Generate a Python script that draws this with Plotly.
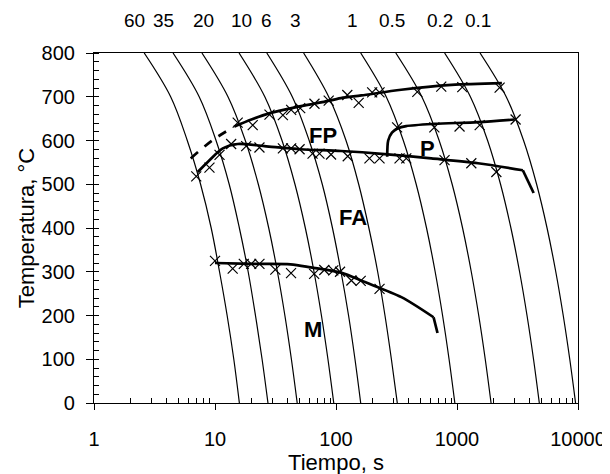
import math
import plotly.graph_objects as go

# ---------------- data ----------------
# cooling curves: time (s) at each temperature level
cool_T = [800, 700, 600, 500, 400, 300, 200, 100, 0]
cool_rates = ["60", "35", "20", "10", "6", "3", "1", "0.5", "0.2", "0.1"]
cool_t = [
    [2.6, 4.3, 5.9, 7.6, 9.3, 10.9, 12.6, 14.3, 15.9],
    [4.5, 7.4, 10.2, 13.1, 15.9, 18.8, 21.6, 24.5, 27.4],
    [7.8, 12.8, 17.8, 22.8, 27.8, 32.8, 37.8, 42.8, 47.8],
    [15.8, 25.8, 35.8, 45.8, 55.8, 65.8, 75.8, 85.8, 95.8],
    [26.8, 43.5, 60, 77, 93.5, 110, 127, 143.5, 160],
    [54, 87, 121, 154, 187, 221, 254, 287, 321],
    [160, 260, 360, 460, 560, 660, 760, 860, 960],
    [312, 512, 712, 912, 1112, 1312, 1512, 1712, 1912],
    [790, 1290, 1790, 2290, 2790, 3290, 3790, 4290, 4790],
    [1550, 2550, 3550, 4550, 5550, 6550, 7550, 8550, 9550],
]

# ferrite start line (dashed extrapolation + solid)
fs_dash_t = [6.3, 9.6, 14.5]
fs_dash_T = [559, 601, 632]
fs_t = [14.5, 20, 28, 48, 75, 110, 162, 346, 900, 2350]
fs_T = [632, 648, 662, 677, 687, 697, 703, 716, 727, 731]
fs_mk_t = [15.4, 20.5, 28.2, 36.4, 42.6, 50.6, 66.4, 87, 124, 154, 199, 229, 470, 741, 1106, 2250]
fs_mk_T = [641, 635, 659, 658, 670, 674, 684, 691, 704, 686, 710, 710, 711, 723, 722, 721]

# lower transformation line (last point = end of the final drop)
lo_t = [7.2, 9.0, 11.6, 15.4, 25.6, 51, 110, 252, 613, 1492, 3500, 4300]
lo_T = [528, 555, 582, 592, 587, 580, 576, 569, 559, 548, 532, 480]
lo_mk_t = [7.0, 9.0, 10.9, 13.6, 18.1, 23.3, 36.4, 42.6, 50, 64, 73, 91, 125, 189, 229, 335, 381, 789, 1313, 2115]
lo_mk_T = [518, 538, 567, 592, 587, 584, 582, 582, 580, 570, 570, 568, 564, 559, 559, 559, 559, 555, 548, 528]

# pearlite start line
p_t = [265, 270, 290, 325, 380, 650, 1500, 3000]
p_T = [563, 600, 618, 628, 633, 638, 642, 648]
p_mk_t = [320, 650, 1050, 1540, 3050]
p_mk_T = [630, 630, 632, 635, 648]

# martensite start line (last point = end of the final drop)
m_t = [10, 20, 42, 62, 110, 171, 347, 640, 690]
m_T = [320, 318, 317, 310, 298, 277, 242, 196, 160]
m_mk_t = [10, 14, 17.3, 19.9, 23.3, 31.5, 42.5, 66, 80, 95, 108, 134, 160, 229]
m_mk_T = [325, 307, 318, 318, 318, 305, 297, 295, 304, 303, 300, 280, 279, 261]

# region labels
region_text = ["FP", "FA", "P", "M"]
region_t = [78, 138, 575, 64]
region_T = [612, 425, 582, 169]

x_tickvals = [1, 10, 100, 1000, 10000]
x_ticktext = ["1", "10", "100", "1000", "10000"]
x_minor_vals = [d * m for d in [1, 10, 100, 1000] for m in range(2, 10)]

# ---------------- figure ----------------
FONT = "Arial, Liberation Sans, sans-serif"
fig = go.Figure()

for ts in cool_t:
    fig.add_trace(go.Scatter(x=ts, y=cool_T, mode="lines",
                             line=dict(color="black", width=1.2, shape="spline"),
                             showlegend=False, hoverinfo="skip"))

lw = 2.7
fig.add_trace(go.Scatter(x=fs_dash_t, y=fs_dash_T, mode="lines",
                         line=dict(color="black", width=lw, dash="dash", shape="spline"),
                         showlegend=False))
for xs, ys in [(fs_t, fs_T), (lo_t[:-1], lo_T[:-1]), (p_t, p_T), (m_t[:-1], m_T[:-1])]:
    fig.add_trace(go.Scatter(x=xs, y=ys, mode="lines",
                             line=dict(color="black", width=lw, shape="spline", smoothing=0.8),
                             showlegend=False))
# sharp end drops
for xs, ys in [(lo_t[-2:], lo_T[-2:]), (m_t[-2:], m_T[-2:])]:
    fig.add_trace(go.Scatter(x=xs, y=ys, mode="lines",
                             line=dict(color="black", width=lw, shape="linear"),
                             showlegend=False))
for xs, ys in [(fs_mk_t, fs_mk_T), (lo_mk_t, lo_mk_T), (p_mk_t, p_mk_T), (m_mk_t, m_mk_T)]:
    fig.add_trace(go.Scatter(x=xs, y=ys, mode="markers",
                             marker=dict(symbol="x-thin", size=10, color="black",
                                         line=dict(width=1.2, color="black")),
                             showlegend=False))

for txt, tx, ty in zip(region_text, region_t, region_T):
    fig.add_annotation(x=math.log10(tx), y=ty, xref="x", yref="y", text="<b>%s</b>" % txt,
                       showarrow=False, font=dict(family=FONT, size=22, color="black"))

label_dx = [-10, -10, 2, 2, 0, -8, -8, -4, -5, -2]
for rate, ts, dx in zip(cool_rates, cool_t, label_dx):
    fig.add_annotation(x=math.log10(ts[0]), y=1, xref="x", yref="paper", text=rate,
                       showarrow=False, yanchor="bottom", yshift=20, xshift=dx,
                       font=dict(family=FONT, size=19, color="black"))

fig.update_layout(
    width=610, height=474,
    margin=dict(l=86, r=33, t=45, b=79),
    paper_bgcolor="white", plot_bgcolor="white",
    font=dict(family=FONT, size=20, color="black"),
    showlegend=False,
)
fig.update_xaxes(type="log", range=[0, 4], tickmode="array", tickvals=x_tickvals, ticktext=x_ticktext,
                 showline=True, linecolor="black", linewidth=1.2, mirror=True,
                 ticks="outside", ticklen=6, tickcolor="black", tickwidth=1.2,
                 showgrid=False, zeroline=False,
                 tickfont=dict(family=FONT, size=20), ticklabelstandoff=12,
                 minor=dict(tickmode="array", tickvals=x_minor_vals, ticks="inside", ticklen=5,
                            tickcolor="black", tickwidth=1.2, showgrid=False),
                 title=dict(text="Tiempo, s", font=dict(family=FONT, size=22), standoff=2))
fig.update_yaxes(range=[0, 800], tickmode="linear", tick0=0, dtick=100,
                 showline=True, linecolor="black", linewidth=1.2, mirror=True,
                 ticks="outside", ticklen=7, tickcolor="black", tickwidth=1.2,
                 showgrid=False, zeroline=False,
                 tickfont=dict(family=FONT, size=20), ticklabelstandoff=7,
                 minor=dict(tickmode="linear", tick0=0, dtick=20, ticks="inside", ticklen=5,
                            tickcolor="black", tickwidth=1.2, showgrid=False),
                 title=dict(text="Temperatura, °C", font=dict(family=FONT, size=22), standoff=0))

fig.write_html("out.html", config={"displayModeBar": False})
